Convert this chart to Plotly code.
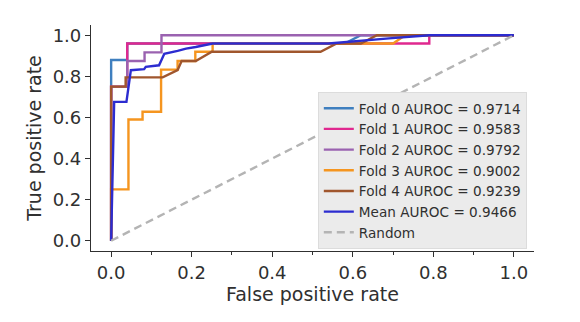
import plotly.graph_objects as go

# ROC curve data
fold0_fpr = [0, 0, 0.04, 0.04, 0.58, 0.62, 1.0]
fold0_tpr = [0, 0.88, 0.88, 0.96, 0.96, 1.0, 1.0]

fold1_fpr = [0, 0, 0.04, 0.04, 0.79, 0.79, 1.0]
fold1_tpr = [0, 0.75, 0.75, 0.96, 0.96, 1.0, 1.0]

fold2_fpr = [0, 0, 0.04, 0.04, 0.083, 0.083, 0.125, 0.125, 1.0]
fold2_tpr = [0, 0.75, 0.75, 0.875, 0.875, 0.917, 0.917, 1.0, 1.0]

fold3_fpr = [0, 0, 0.043, 0.043, 0.078, 0.078, 0.124, 0.124, 0.165, 0.165, 0.209, 0.209, 0.252, 0.252, 0.70, 0.73, 1.0]
fold3_tpr = [0, 0.25, 0.25, 0.59, 0.59, 0.628, 0.628, 0.833, 0.833, 0.875, 0.875, 0.92, 0.92, 0.96, 0.96, 1.0, 1.0]

fold4_fpr = [0, 0, 0.036, 0.036, 0.128, 0.165, 0.175, 0.21, 0.25, 0.52, 0.56, 0.62, 0.66, 1.0]
fold4_tpr = [0, 0.75, 0.75, 0.795, 0.795, 0.83, 0.875, 0.875, 0.92, 0.92, 0.96, 0.96, 1.0, 1.0]

mean_fpr = [0, 0.0075, 0.038, 0.049, 0.082, 0.086, 0.119, 0.132, 0.165, 0.186, 0.21, 0.252, 0.54, 0.62, 0.69, 0.79, 1.0]
mean_tpr = [0, 0.676, 0.676, 0.83, 0.835, 0.846, 0.854, 0.91, 0.924, 0.935, 0.943, 0.96, 0.96, 0.975, 0.985, 1.0, 1.0]

random_fpr = [0, 1]
random_tpr = [0, 1]

labels = ["Fold 0 AUROC = 0.9714", "Fold 1 AUROC = 0.9583", "Fold 2 AUROC = 0.9792",
          "Fold 3 AUROC = 0.9002", "Fold 4 AUROC = 0.9239", "Mean AUROC = 0.9466", "Random"]
colors = ["#3f7fbf", "#e0288f", "#9a62b0", "#f5951f", "#a0562d", "#2c2cd0", "#b4b4b4"]

series = [(fold0_fpr, fold0_tpr), (fold1_fpr, fold1_tpr), (fold2_fpr, fold2_tpr),
          (fold3_fpr, fold3_tpr), (fold4_fpr, fold4_tpr), (mean_fpr, mean_tpr)]

fig = go.Figure()
for (x, y), lab, col in zip(series, labels[:6], colors[:6]):
    fig.add_trace(go.Scatter(x=x, y=y, mode="lines", name=lab,
                             line=dict(color=col, width=2.4)))
fig.add_trace(go.Scatter(x=random_fpr, y=random_tpr, mode="lines", name=labels[6],
                         line=dict(color=colors[6], width=2.4, dash="8px,5px")))

txt = "#303030"
fig.update_layout(
    width=580, height=322,
    margin=dict(l=83, r=54, t=17, b=79),
    plot_bgcolor="white", paper_bgcolor="white",
    font=dict(family="DejaVu Sans", color=txt),
    legend=dict(x=0.512, y=0.704, xanchor="left", yanchor="top",
                bgcolor="#ebebeb", bordercolor="#dcdcdc", borderwidth=1,
                font=dict(size=13.6, color=txt), tracegroupgap=0),
    showlegend=True,
)
fig.update_xaxes(range=[-0.05, 1.05], tickvals=[0, 0.2, 0.4, 0.6, 0.8, 1.0],
                 ticktext=["0.0", "0.2", "0.4", "0.6", "0.8", "1.0"], automargin=False,
                 showgrid=False, zeroline=False, showline=True, linecolor=txt, linewidth=1.2,
                 ticks="outside", ticklen=5, tickwidth=1.2, tickcolor=txt,
                 tickfont=dict(size=18, color=txt),
                 minor=dict(ticks="outside", ticklen=3, tickwidth=1, tickcolor=txt,
                            tickvals=[0.1, 0.3, 0.5, 0.7, 0.9]),
                 title=dict(text="False positive rate", font=dict(size=19, color=txt), standoff=5))
fig.update_yaxes(range=[-0.05, 1.05], tickvals=[0, 0.2, 0.4, 0.6, 0.8, 1.0],
                 ticktext=["0.0", "0.2", "0.4", "0.6", "0.8", "1.0"], automargin=False,
                 showgrid=False, zeroline=False, showline=True, linecolor=txt, linewidth=1.2,
                 ticks="outside", ticklen=5, tickwidth=1.2, tickcolor=txt,
                 tickfont=dict(size=18, color=txt),
                 title=dict(text="True positive rate", font=dict(size=19, color=txt), standoff=6))

fig.write_html("out.html")
